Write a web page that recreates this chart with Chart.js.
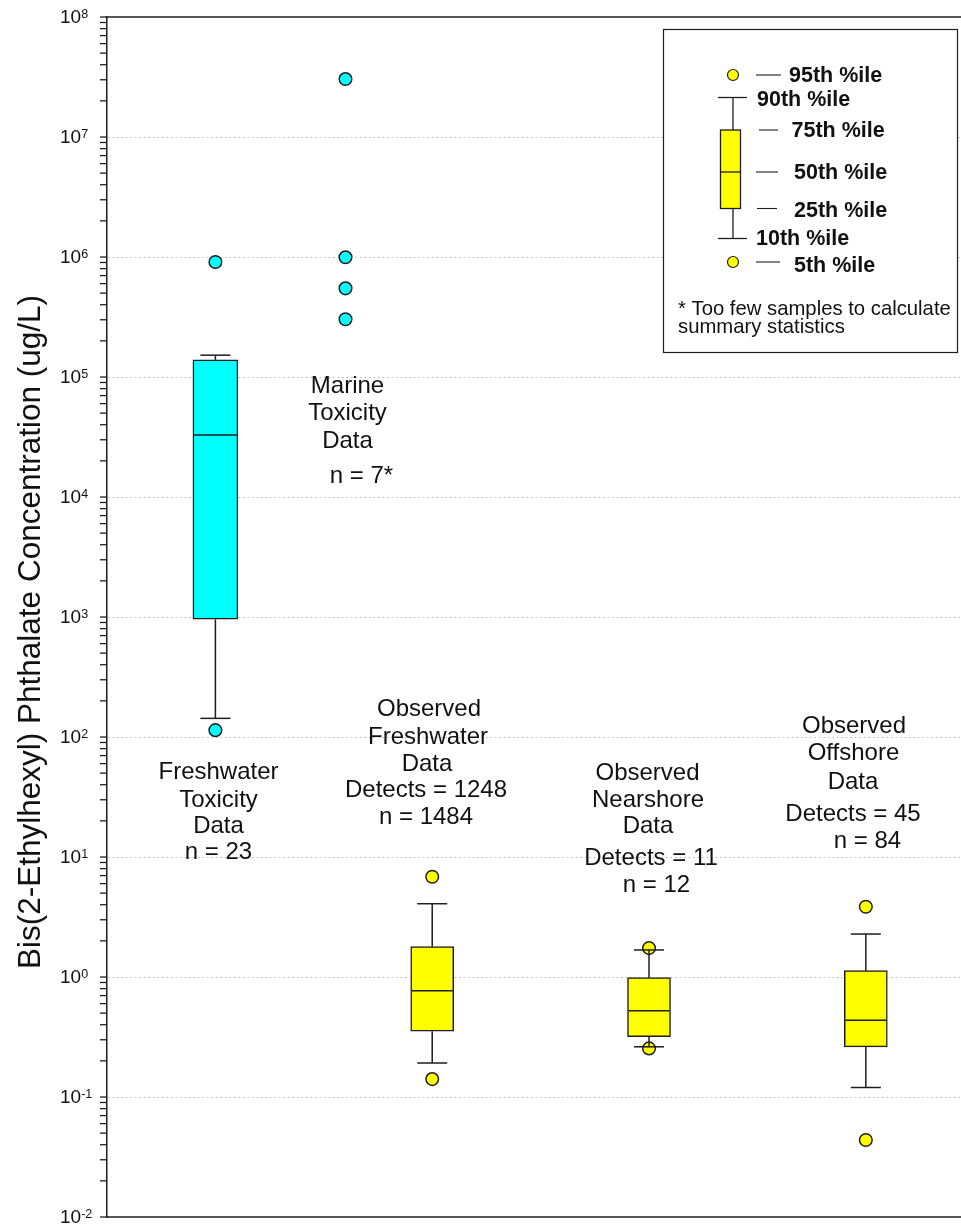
<!DOCTYPE html>
<html>
<head>
<meta charset="utf-8">
<script src="https://cdn.jsdelivr.net/npm/chart.js@4/dist/chart.umd.min.js"></script>
<style>
  html, body { margin: 0; padding: 0; background: #fff; }
  #wrap { width: 961px; height: 1226px; }
</style>
</head>
<body>
<div id="wrap"><canvas id="c" width="961" height="1226"></canvas></div>
<script>
// ---- data -------------------------------------------------------------
const groups = ['Freshwater Toxicity', 'Marine Toxicity', 'Observed Freshwater', 'Observed Nearshore', 'Observed Offshore'];
// horizontal placement of each group on the hidden x axis
const groupPos = [1, 1.6, 2, 3, 4];

// percentile summaries, ug/L: [10th, 25th, 50th, 75th, 90th]
const freshToxBox  = [143, 957, 32900, 139000, 152000];
const obsFreshBox  = [0.192, 0.353, 0.769, 1.79, 4.08];
const nearshoreBox = [0.262, 0.318, 0.524, 0.987, 1.68];
const offshoreBox  = [0.12, 0.262, 0.436, 1.13, 2.28];

// 5th and 95th percentiles, ug/L
const freshToxTails  = [114, 908000];
const obsFreshTails  = [0.141, 6.85];
const nearshoreTails = [0.254, 1.74];
const offshoreTails  = [0.0438, 3.85];

// marine toxicity values (too few samples for summary statistics)
const marineValues = [30400000, 994000, 548000, 303000];

// decade exponents for the logarithmic axis
const tickExps = [-2, -1, 0, 1, 2, 3, 4, 5, 6, 7, 8];

// text blocks under/over each group
const groupText = [
  ['Freshwater', 'Toxicity', 'Data', 'n = 23'],
  ['Marine', 'Toxicity', 'Data', 'n = 7*'],
  ['Observed', 'Freshwater', 'Data', 'Detects = 1248', 'n = 1484'],
  ['Observed', 'Nearshore', 'Data', 'Detects = 11', 'n = 12'],
  ['Observed', 'Offshore', 'Data', 'Detects = 45', 'n = 84']
];
const yTitle = 'Bis(2-Ethylhexyl) Phthalate Concentration (ug/L)';
const legendLabels = ['95th %ile', '90th %ile', '75th %ile', '50th %ile', '25th %ile', '10th %ile', '5th %ile'];
const footnote = ['* Too few samples to calculate', 'summary statistics'];

// ---- styling / layout ------------------------------------------------
const CYAN = '#00ffff';
const YELLOW = '#ffff00';
const EDGE = '#1e1e1e';
const FONT = "'Liberation Sans', Arial, sans-serif";

// [x, baseline] for each line of each text block
const textLayout = [
  [[218.5, 779], [218.5, 806.5], [218.5, 833], [218.5, 858.5]],
  [[347.5, 393], [347.5, 420], [347.5, 447.5], [361.5, 483]],
  [[429, 716], [428, 744], [427, 770.5], [426, 797], [426, 823.5]],
  [[647.5, 780], [648, 806.5], [648, 833], [651, 865], [656.5, 891.5]],
  [[854, 733], [853.5, 760], [853, 789], [853, 821], [867.5, 848]]
];

const boxes = [
  { pos: groupPos[0], stats: freshToxBox },
  { pos: groupPos[2], stats: obsFreshBox },
  { pos: groupPos[3], stats: nearshoreBox },
  { pos: groupPos[4], stats: offshoreBox }
];
const CAP_HALF = 15;

function seg(ctx, x1, y1, x2, y2) {
  ctx.beginPath(); ctx.moveTo(x1, y1); ctx.lineTo(x2, y2); ctx.stroke();
}

// axis frame, dotted decade grid, tick marks, power-of-ten labels, axis title
const framePlugin = {
  id: 'frame',
  beforeDatasetsDraw(chart) {
    const { ctx, chartArea: a, scales: { y } } = chart;
    ctx.save();
    // dotted grid at each decade
    ctx.strokeStyle = '#b8b8b8';
    ctx.lineWidth = 1;
    ctx.setLineDash([1.5, 3]);
    tickExps.forEach(e => {
      const py = Math.round(y.getPixelForValue(Math.pow(10, e))) + 0.5;
      if (py > a.top + 2 && py < a.bottom - 2) seg(ctx, a.left + 1, py, a.right, py);
    });
    ctx.setLineDash([]);
    // top and bottom frame lines
    ctx.strokeStyle = EDGE;
    ctx.lineWidth = 1.5;
    seg(ctx, a.left, a.top, a.right, a.top);
    seg(ctx, a.left, a.bottom, a.right, a.bottom);
    // major and minor tick marks, outside the axis
    ctx.lineWidth = 1.3;
    for (let i = 0; i < tickExps.length; i++) {
      const e = tickExps[i];
      const ks = i < tickExps.length - 1 ? [1, 2, 3, 4, 5, 6, 7, 8, 9] : [1];
      ks.forEach(k => {
        const py = y.getPixelForValue(k * Math.pow(10, e));
        seg(ctx, a.left - 7, py, a.left, py);
      });
    }
    // labels 10^n
    ctx.fillStyle = '#111';
    tickExps.forEach(e => {
      const py = y.getPixelForValue(Math.pow(10, e));
      ctx.font = '19px ' + FONT;
      ctx.textAlign = 'left';
      ctx.textBaseline = 'middle';
      ctx.fillText('10', 60, py + 1);
      const w = ctx.measureText('10').width;
      ctx.font = '12.5px ' + FONT;
      ctx.textBaseline = 'alphabetic';
      ctx.fillText(String(e), 60 + w, py + 1);
    });
    // axis title
    ctx.save();
    ctx.translate(31, 632);
    ctx.rotate(-Math.PI / 2);
    ctx.font = '31.5px ' + FONT;
    ctx.textAlign = 'center';
    ctx.textBaseline = 'middle';
    ctx.fillText(yTitle, 0, 0);
    ctx.restore();
    ctx.restore();
  },
  afterDatasetsDraw(chart) {
    const { ctx, scales: { x, y } } = chart;
    ctx.save();
    // medians, whiskers and caps
    ctx.strokeStyle = EDGE;
    ctx.lineWidth = 1.5;
    chart.data.datasets.forEach(ds => {
      if (ds.type !== 'bar') return;
      const half = ds.barThickness / 2;
      ds.stats.forEach(st => {
        const px = x.getPixelForValue(st.pos);
        const [p10, p25, p50, p75, p90] = st.stats.map(v => y.getPixelForValue(v));
        seg(ctx, px - half + 1, p50, px + half - 1, p50);
        seg(ctx, px, p75, px, p90);
        seg(ctx, px - CAP_HALF, p90, px + CAP_HALF, p90);
        seg(ctx, px, p25, px, p10);
        seg(ctx, px - CAP_HALF, p10, px + CAP_HALF, p10);
      });
    });
    // group captions
    ctx.fillStyle = '#111';
    ctx.font = '24px ' + FONT;
    ctx.textAlign = 'center';
    ctx.textBaseline = 'alphabetic';
    groupText.forEach((lines, gi) => {
      lines.forEach((t, li) => {
        const [tx, ty] = textLayout[gi][li];
        ctx.fillText(t, tx, ty);
      });
    });
    // legend key
    const L = 663, T = 29, W = 294, H = 323;
    ctx.fillStyle = '#fff';
    ctx.fillRect(L, T, W, H);
    ctx.lineWidth = 1.2;
    ctx.strokeStyle = EDGE;
    ctx.strokeRect(L + 0.5, T + 0.5, W, H);
    const cx = 733;
    const dot = (cy) => {
      ctx.beginPath(); ctx.arc(cx, cy, 5.5, 0, Math.PI * 2);
      ctx.fillStyle = YELLOW; ctx.fill(); ctx.lineWidth = 1.2; ctx.stroke();
    };
    ctx.lineWidth = 1.3;
    seg(ctx, cx, 97.5, cx, 130);
    seg(ctx, cx, 208.5, cx, 238.5);
    seg(ctx, 718, 97.5, 747, 97.5);
    seg(ctx, 718, 238.5, 747, 238.5);
    ctx.fillStyle = YELLOW;
    ctx.fillRect(720.5, 130, 20, 78.5);
    ctx.strokeRect(720.5, 130, 20, 78.5);
    seg(ctx, 720.5, 172, 740.5, 172);
    dot(75);
    dot(262);
    ctx.lineWidth = 1.1;
    seg(ctx, 756, 75, 781, 75);
    seg(ctx, 759, 130, 778, 130);
    seg(ctx, 756, 172, 778, 172);
    seg(ctx, 757, 208.5, 777, 208.5);
    seg(ctx, 756, 262, 780, 262);
    const legendPos = [[789, 75], [757, 99], [791.5, 130], [794, 172], [794, 210], [756, 238.5], [794, 265]];
    ctx.fillStyle = '#111';
    ctx.font = 'bold 21.5px ' + FONT;
    ctx.textAlign = 'left';
    ctx.textBaseline = 'middle';
    legendLabels.forEach((t, i) => ctx.fillText(t, legendPos[i][0], legendPos[i][1] + 1));
    ctx.font = '20.3px ' + FONT;
    ctx.fillText(footnote[0], 678, 309);
    ctx.fillText(footnote[1], 678, 327);
    ctx.restore();
  }
};

// ---- datasets ---------------------------------------------------------
const cyanBoxes = [boxes[0]];
const yellowBoxes = boxes.slice(1);
const toFloating = list => list.map(b => ({ x: b.pos, y: [b.stats[1], b.stats[3]] }));

const cyanPoints = [
  ...freshToxTails.map(v => ({ x: groupPos[0], y: v })),
  ...marineValues.map(v => ({ x: groupPos[1], y: v }))
];
const yellowPoints = [
  ...obsFreshTails.map(v => ({ x: groupPos[2], y: v })),
  ...nearshoreTails.map(v => ({ x: groupPos[3], y: v })),
  ...offshoreTails.map(v => ({ x: groupPos[4], y: v }))
];

const pointStyle = {
  type: 'scatter', pointRadius: 6.3, pointBorderWidth: 1.5, pointBorderColor: EDGE, order: 0
};

new Chart(document.getElementById('c'), {
  type: 'bar',
  data: {
    datasets: [
      { ...pointStyle, label: 'toxicity values', data: cyanPoints, pointBackgroundColor: CYAN },
      { ...pointStyle, label: 'observed extremes', data: yellowPoints, pointBackgroundColor: YELLOW },
      { type: 'bar', label: 'toxicity boxes', data: toFloating(cyanBoxes), stats: cyanBoxes,
        backgroundColor: CYAN, borderColor: EDGE, borderWidth: 1.5, borderSkipped: false,
        barThickness: 45, grouped: false, order: 1 },
      { type: 'bar', label: 'observed boxes', data: toFloating(yellowBoxes), stats: yellowBoxes,
        backgroundColor: YELLOW, borderColor: EDGE, borderWidth: 1.5, borderSkipped: false,
        barThickness: 43, grouped: false, order: 1 }
    ]
  },
  options: {
    responsive: false,
    animation: false,
    events: [],
    layout: { autoPadding: false, padding: { top: 17, bottom: 9, left: 0, right: 0 } },
    plugins: { legend: { display: false }, tooltip: { enabled: false } },
    scales: {
      x: { type: 'linear', min: 0.5, max: 4.439, offset: false, display: false },
      y: {
        type: 'logarithmic', min: 0.01, max: 1e8,
        afterFit: s => { s.width = 107; },
        ticks: { display: false },
        grid: { display: false },
        border: { display: true, color: EDGE, width: 1.5 }
      }
    }
  },
  plugins: [framePlugin]
});
</script>
</body>
</html>
